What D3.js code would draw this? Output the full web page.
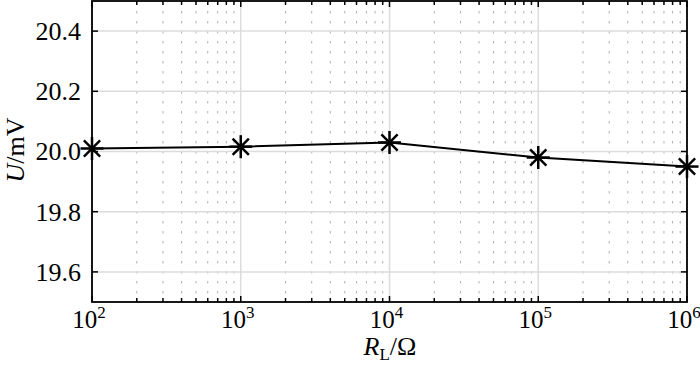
<!DOCTYPE html>
<html><head><meta charset="utf-8">
<script src="https://cdn.jsdelivr.net/npm/d3@7"></script>
<style>body{margin:0;background:#fff}svg{display:block}</style>
</head><body>
<svg id="c" width="700" height="368"></svg>
<script>
const xValues = [1e2, 1e3, 1e4, 1e5, 1e6];
const yValues = [20.01, 20.016, 20.03, 19.98, 19.95];
const yTicks = [19.6, 19.8, 20.0, 20.2, 20.4];
const xTickExps = [2, 3, 4, 5, 6];

const FONT = "'Liberation Serif', 'Times New Roman', Times, serif";
const svg = d3.select("#c");
const L = 92, R = 687, T = 1, B = 302;
const x = d3.scaleLog().domain([1e2, 1e6]).range([L, R]);
const y = d3.scaleLinear().domain([19.5, 20.5]).range([B, T]);

const minor = [];
for (let e = 2; e < 6; e++) for (let k = 2; k <= 9; k++) minor.push(k * Math.pow(10, e));
const major = xTickExps.map(e => Math.pow(10, e));

svg.append("g").selectAll("line").data(minor).join("line")
  .attr("x1", d => x(d)).attr("x2", d => x(d)).attr("y1", T).attr("y2", B)
  .attr("stroke", "#b0b0b0").attr("stroke-width", 1).attr("stroke-dasharray", "2.5,7.5");
svg.append("g").selectAll("line").data(major).join("line")
  .attr("x1", d => x(d)).attr("x2", d => x(d)).attr("y1", T).attr("y2", B)
  .attr("stroke", "#dcdcdc").attr("stroke-width", 1.5);
svg.append("g").selectAll("line").data(yTicks).join("line")
  .attr("x1", L).attr("x2", R).attr("y1", d => y(d)).attr("y2", d => y(d))
  .attr("stroke", "#dcdcdc").attr("stroke-width", 1.5);

const ax = svg.append("g").attr("stroke", "#000").attr("stroke-width", 1.5);
minor.forEach(d => {
  ax.append("line").attr("x1", x(d)).attr("x2", x(d)).attr("y1", B).attr("y2", B - 4);
  ax.append("line").attr("x1", x(d)).attr("x2", x(d)).attr("y1", T).attr("y2", T + 4);
});
major.forEach(d => {
  ax.append("line").attr("x1", x(d)).attr("x2", x(d)).attr("y1", B).attr("y2", B - 6);
  ax.append("line").attr("x1", x(d)).attr("x2", x(d)).attr("y1", T).attr("y2", T + 6);
});
yTicks.forEach(d => {
  ax.append("line").attr("x1", L).attr("x2", L + 6).attr("y1", y(d)).attr("y2", y(d));
  ax.append("line").attr("x1", R).attr("x2", R - 6).attr("y1", y(d)).attr("y2", y(d));
});
svg.append("rect").attr("x", L).attr("y", T).attr("width", R - L).attr("height", B - T)
  .attr("fill", "none").attr("stroke", "#000").attr("stroke-width", 1.8);

svg.append("g").selectAll("text").data(yTicks).join("text")
  .attr("font-family", FONT)
  .attr("x", 81).attr("y", d => y(d)).attr("dy", "0.34em")
  .attr("text-anchor", "end").attr("font-size", 26)
  .text(d => d.toFixed(1));
const xl = svg.append("g").selectAll("text").data(xTickExps).join("text")
  .attr("font-family", FONT)
  .attr("x", d => x(Math.pow(10, d)) - 3).attr("y", 328)
  .attr("text-anchor", "middle").attr("font-size", 25);
xl.append("tspan").text("10");
xl.append("tspan").attr("font-size", 17).attr("dy", -10).text(d => d);

const yl = svg.append("text").attr("font-family", FONT).attr("transform", "translate(24,150) rotate(-90)")
  .attr("text-anchor", "middle").attr("font-size", 26);
yl.append("tspan").attr("font-style", "italic").text("U");
yl.append("tspan").text("/mV");
const xlab = svg.append("text").attr("font-family", FONT).attr("x", 390).attr("y", 355)
  .attr("text-anchor", "middle").attr("font-size", 26);
xlab.append("tspan").attr("font-style", "italic").text("R");
xlab.append("tspan").attr("font-size", 17).attr("dy", 5).text("L");
xlab.append("tspan").attr("dy", -5).text("/Ω");

const pts = xValues.map((v, i) => [v, yValues[i]]);
svg.append("path").datum(pts)
  .attr("d", d3.line().x(d => x(d[0])).y(d => y(d[1])))
  .attr("fill", "none").attr("stroke", "#000").attr("stroke-width", 2);
const r = 11.5, rd = r * Math.SQRT1_2;
const mk = svg.append("g").selectAll("g").data(pts).join("g")
  .attr("transform", d => `translate(${x(d[0])},${y(d[1])})`)
  .attr("stroke", "#000").attr("stroke-width", 2.5);
mk.append("line").attr("x1", -r).attr("x2", r).attr("y1", 0).attr("y2", 0);
mk.append("line").attr("x1", 0).attr("x2", 0).attr("y1", -r).attr("y2", r);
mk.append("line").attr("x1", -rd).attr("x2", rd).attr("y1", -rd).attr("y2", rd);
mk.append("line").attr("x1", -rd).attr("x2", rd).attr("y1", rd).attr("y2", -rd);
</script>
</body></html>
